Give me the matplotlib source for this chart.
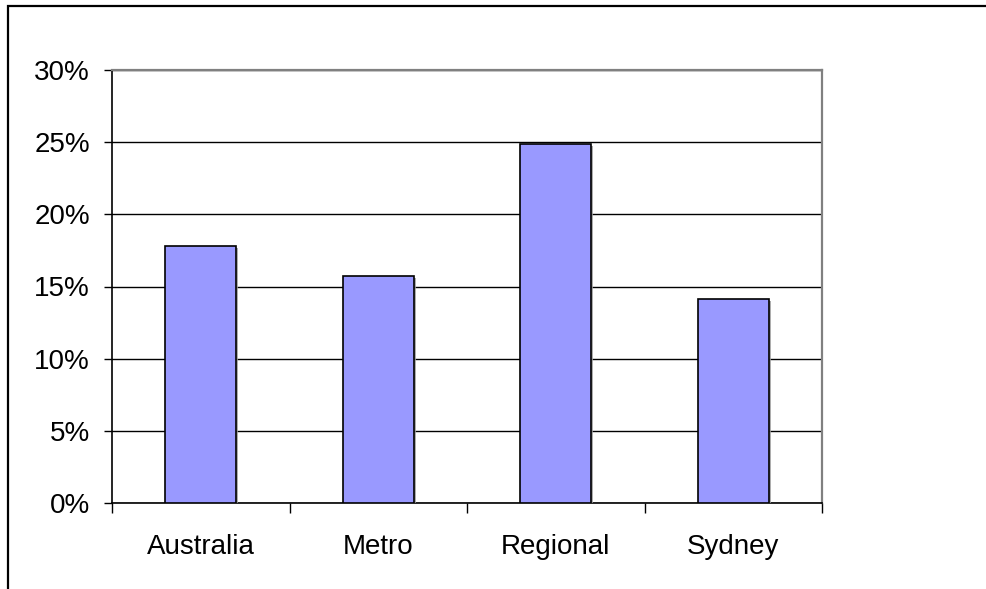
import matplotlib
matplotlib.use("Agg")
import matplotlib.pyplot as plt
import matplotlib.patheffects as pe
from matplotlib.patches import Rectangle
from matplotlib.ticker import FuncFormatter, MultipleLocator

categories = ["Australia", "Metro", "Regional", "Sydney"]
values = [17.8, 15.7, 24.85, 14.15]

W, H = 986, 589
plt.rcParams['font.family'] = ['Liberation Sans', 'DejaVu Sans']
fig = plt.figure(figsize=(W / 100, H / 100), dpi=100)

# outer chart frame (cut off at right and bottom)
fig.patches.append(Rectangle((8 / W, -0.1), 1.2, (H - 6) / H + 0.1,
                             transform=fig.transFigure, fill=False,
                             edgecolor='black', linewidth=1.6))

ax = fig.add_axes([112 / W, (H - 503) / H, (822 - 112) / W, (503 - 70) / H])
x = list(range(len(categories)))
ax.bar(x, values, width=0.4, color='#9999FF', edgecolor='black', linewidth=1.2,
       zorder=3,
       path_effects=[pe.SimplePatchShadow(offset=(1.5, -1.5), shadow_rgbFace='#999999', alpha=0.8),
                     pe.Normal()])
ax.set_xlim(-0.5, len(categories) - 0.5)
ax.set_ylim(0, 30)
ax.yaxis.set_major_locator(MultipleLocator(5))
ax.yaxis.set_major_formatter(FuncFormatter(lambda v, p: f"{int(round(v))}%"))
ax.grid(axis='y', color='black', linewidth=1.0, zorder=1)
ax.set_axisbelow(True)

ax.set_xticks(x)
ax.set_xticklabels(categories)
ax.set_xticks([i - 0.5 for i in range(len(categories) + 1)], minor=True)
ax.tick_params(axis='x', which='major', length=0, pad=22, labelsize=20)
ax.tick_params(axis='x', which='minor', length=7, width=1.0, direction='out', color='black')
ax.tick_params(axis='y', length=6, width=1.0, direction='out', pad=10, labelsize=20)

for s in ['left', 'bottom']:
    ax.spines[s].set_color('black')
    ax.spines[s].set_linewidth(1.2)
for s in ['top', 'right']:
    ax.spines[s].set_color('#808080')
    ax.spines[s].set_linewidth(1.6)

fig.savefig("out.png", dpi=100)
